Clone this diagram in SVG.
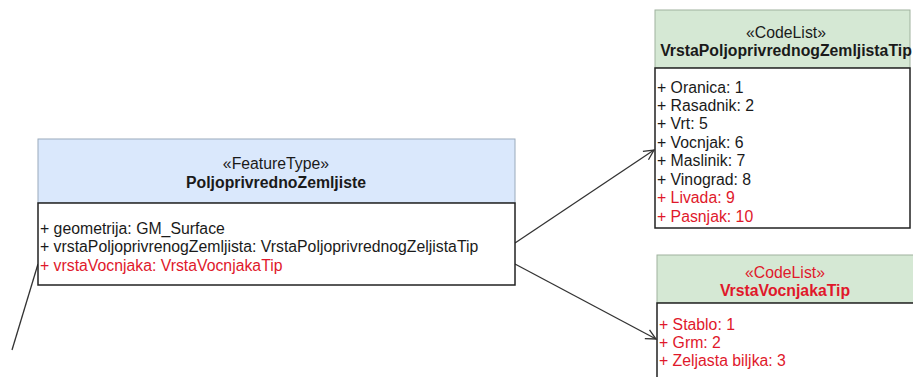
<svg xmlns="http://www.w3.org/2000/svg" width="913" height="377" viewBox="0 0 913 377">
<defs>
<style>
text{font-family:"Liberation Sans",Arial,sans-serif;font-size:15.8px;fill:#1a1a1a}
.c{text-anchor:middle}
.b{font-weight:bold}
.r{fill:#e0182b}
.body{fill:#fff;stroke:#222;stroke-width:1.5}
.hb{fill:#dae8fc;stroke:#9aaabb;stroke-width:1}
.hg{fill:#d5e8d4;stroke:#9fb29e;stroke-width:1}
.ln{fill:none;stroke:#333;stroke-width:1.3}
</style>
<marker id="open" viewBox="0 0 12 12" refX="11" refY="6" markerWidth="12" markerHeight="12" markerUnits="userSpaceOnUse" orient="auto">
<path d="M1,1 L11,6 L1,11" fill="none" stroke="#333" stroke-width="1.3"/>
</marker>
</defs>
<g id="connectors">
<line class="ln" x1="12" y1="350" x2="38" y2="264"/>
<line class="ln" x1="515" y1="243" x2="654" y2="150" marker-end="url(#open)"/>
<line class="ln" x1="515" y1="264" x2="656" y2="339" marker-end="url(#open)"/>
</g>
<g id="PoljoprivrednoZemljiste">
<rect class="hb" x="38" y="139" width="477" height="64"/>
<rect class="body" x="38" y="203" width="477" height="82"/>
<text class="c" x="276" y="169">«FeatureType»</text>
<text class="c b" x="276" y="188">PoljoprivrednoZemljiste</text>
<text x="40" y="234">+ geometrija: GM_Surface</text>
<text x="40" y="252">+ vrstaPoljoprivrenogZemljista: VrstaPoljoprivrednogZeljistaTip</text>
<text class="r" x="40" y="271">+ vrstaVocnjaka: VrstaVocnjakaTip</text>
</g>
<g id="VrstaPoljoprivrednogZemljistaTip">
<rect class="hg" x="655" y="10" width="255" height="58"/>
<rect class="body" x="655" y="68" width="255" height="160"/>
<text class="c" x="786" y="38">«CodeList»</text>
<text class="c b" x="786" y="56">VrstaPoljoprivrednogZemljistaTip</text>
<text x="657" y="93">+ Oranica: 1</text>
<text x="657" y="111">+ Rasadnik: 2</text>
<text x="657" y="129">+ Vrt: 5</text>
<text x="657" y="148">+ Vocnjak: 6</text>
<text x="657" y="166">+ Maslinik: 7</text>
<text x="657" y="185">+ Vinograd: 8</text>
<text class="r" x="657" y="203">+ Livada: 9</text>
<text class="r" x="657" y="222">+ Pasnjak: 10</text>
</g>
<g id="VrstaVocnjakaTip">
<rect class="hg" x="657" y="255" width="260" height="48"/>
<rect class="body" x="657" y="303" width="260" height="80"/>
<text class="c r" x="785" y="278">«CodeList»</text>
<text class="c b r" x="785" y="296">VrstaVocnjakaTip</text>
<text class="r" x="659" y="330">+ Stablo: 1</text>
<text class="r" x="659" y="348">+ Grm: 2</text>
<text class="r" x="659" y="366">+ Zeljasta biljka: 3</text>
</g>
</svg>
